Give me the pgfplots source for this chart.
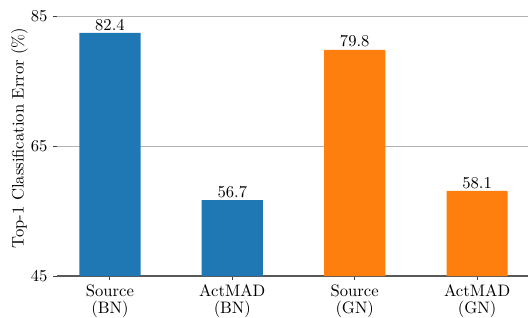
\documentclass[border=0pt]{standalone}
\usepackage{pgfplots}
\pgfplotsset{compat=1.18}
\definecolor{tabblue}{HTML}{1F77B4}
\definecolor{taborange}{HTML}{FF7F0E}
\begin{document}
\begin{tikzpicture}
\begin{axis}[
  scale only axis, width=283.7pt, height=166.3pt,
  xmin=-0.433, xmax=3.416, ymin=45, ymax=87.46,
  ytick={45,65,85}, xtick={0,1,2,3},
  xticklabels={Source\\[-1.4pt](BN), ActMAD\\[-1.4pt](BN), Source\\[-1.4pt](GN), ActMAD\\[-1.4pt](GN)},
  xticklabel style={align=center, inner sep=2.6pt},
  axis x line*=bottom, axis y line*=left, separate axis lines,
  y axis line style={draw=none},
  x axis line style={draw=black!65, line width=1pt},
  ymajorgrids, grid style={black!30, line width=0.5pt},
  tick align=outside, major tick length=2.2pt,
  tick style={black!75, line width=0.6pt},
  ylabel={Top-1 Classification Error (\%)},
  every axis y label/.style={at={(axis description cs:0,0.5)}, xshift=-22.5pt, rotate=90, anchor=center},
  nodes near coords,
  every node near coord/.append style={black, font=\normalsize, inner sep=1.5pt},
  nodes near coords style={/pgf/number format/.cd, fixed, fixed zerofill, precision=1},
]
\addplot[ybar, bar width=0.5, bar shift=0pt, fill=tabblue, draw=none] coordinates {(0,82.4) (1,56.7)};
\addplot[ybar, bar width=0.5, bar shift=0pt, fill=taborange, draw=none] coordinates {(2,79.8) (3,58.1)};
\end{axis}
\pgfresetboundingbox
\path (current axis.south west) ++(-34.3pt,-24.7pt) rectangle (current axis.north east);
\end{tikzpicture}
\end{document}
